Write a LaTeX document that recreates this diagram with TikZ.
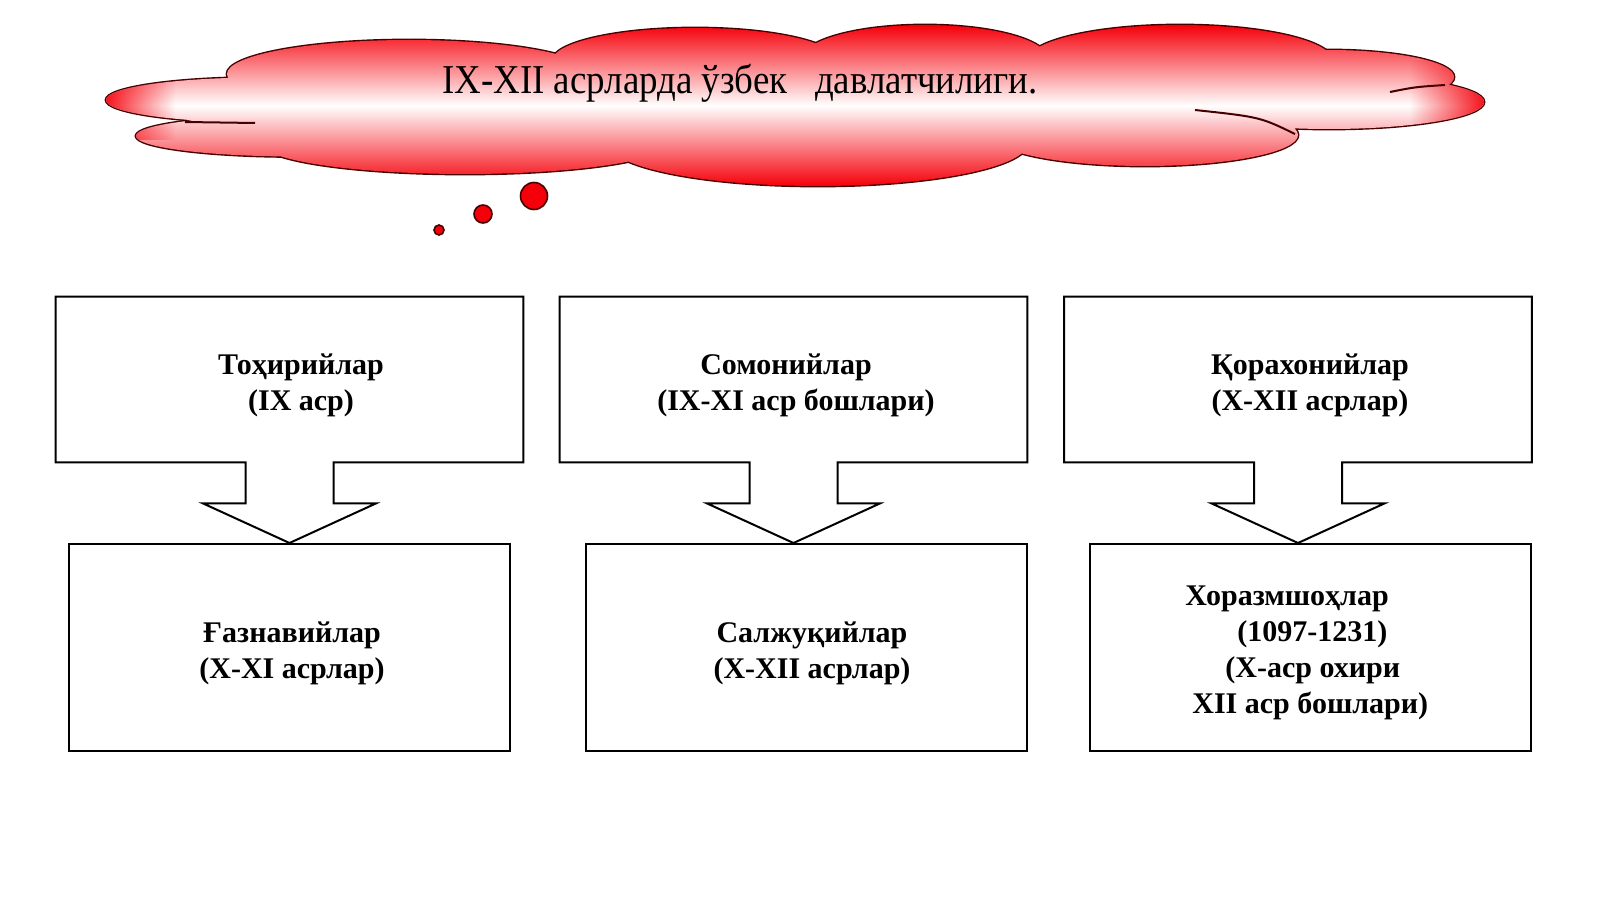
\documentclass[tikz,border=0pt]{standalone}
\usepackage{fontspec}
\setmainfont{Liberation Serif}
\newfontfamily\titlefont[FakeStretch=0.9]{Liberation Serif}
\usetikzlibrary{calc,fadings}
\definecolor{cloudred}{RGB}{245,0,10}
\definecolor{cloudedge}{RGB}{70,0,0}
\tikzfading[name=fadeleft, left color=transparent!0, right color=transparent!100]
\tikzfading[name=faderight, left color=transparent!100, right color=transparent!0]
%% lobes of the cloud: x/y/x radius/y radius
\newcommand{\cloudlobes}{261/100/155/22.5, 296/136/160/20.5, 409/74/182/34,
  695/61/143/33, 925/59/123/34, 1180/61/153/36, 1329/77/125/27,
  1329/102/155/27, 1145/135/153/31, 818/143/210/43, 465/143/204/31,
  736/102/510/51}

\begin{document}
\begin{tikzpicture}
[x=0.5pt,y=-0.5pt,
  topbox/.style={shape=rectangle,inner sep=0pt,minimum width=233.5pt,minimum height=82.5pt},%
  lowbox/.style={shape=rectangle,draw,line width=1pt,inner sep=0pt,minimum width=220.5pt,minimum height=103.5pt},%
  calloutline/.style={draw,line width=1pt,line join=miter},%
  boxtext/.style={font=\bfseries\fontsize{15}{18}\selectfont,align=center,inner sep=0pt},%
  cloudline/.style={draw=cloudedge,line width=1.4pt},%
  cloudfill/.style={top color=cloudred,bottom color=cloudred,middle color=white},%
  bubble/.style={fill=cloudred,draw=cloudedge,line width=0.8pt}]
\useasboundingbox[fill=white] (0,0) rectangle (1600,899);
%% cloud
\foreach \x/\y/\a/\b in \cloudlobes
{
  \path[cloudline] (\x,\y) ellipse [x radius=\a, y radius=\b];
}
\shade[cloudfill] \foreach \x/\y/\a/\b in \cloudlobes {(\x,\y) ellipse [x radius=\a, y radius=\b]};
\begin{scope}
  \clip \foreach \x/\y/\a/\b in \cloudlobes {(\x,\y) ellipse [x radius=\a, y radius=\b]};
  \fill[cloudred,path fading=fadeleft] (100,60) rectangle (175,140);
  \fill[cloudred,path fading=faderight] (1410,60) rectangle (1490,140);
\end{scope}
\draw[cloudedge,line width=1pt] (185,122) .. controls (220,123) .. (255,123);
\draw[cloudedge,line width=1pt] (1195,110) .. controls (1260,117) .. (1295,134);
\draw[cloudedge,line width=1pt] (1390,92) .. controls (1415,87) .. (1445,85);
\node (title) at (740,83) [font=\titlefont\fontsize{20.5}{24}\selectfont] {IX-XII асрларда ўзбек~~~давлатчилиги.};
%% bubbles
\foreach \nodename/\x/\y/\r in {bubA/534/196/13.5, bubB/483/214/9, bubC/439/230/5}
{
  \node (\nodename) at (\x,\y) [bubble,circle,inner sep=0pt,minimum size=\r pt] {};
}
%% boxes
\foreach \n/\tx/\bx in {1/289.5/289.5, 2/793.5/806, 3/1298/1310}
{
  \node (top\n) at (\tx,379.5) [topbox] {};
  \node (low\n) at (\bx,647.5) [lowbox] {};
}
%% callout outlines
\foreach \n in {1,2,3}
{
  \draw[calloutline] (top\n.north west) -- (top\n.north east) -- (top\n.south east)
    -- ($(top\n.south)+(44,0)$) -- ++(0,41) -- ++(42.5,0) -- (top\n.south |- low\n.north)
    -- ($(top\n.south)+(-86.5,41)$) -- ++(42.5,0) -- ++(0,-41) -- (top\n.south west) -- cycle;
}
%% texts
\foreach \nodename/\x/\y/\txt in {toptext1/301/385/{Тоҳирийлар\\(IX аср)},
  toptext2/796/385/{Сомонийлар\hspace*{10pt}\\(IX-XI аср бошлари)},
  toptext3/1310/385/{Қорахонийлар\\(X-XII асрлар)},
  lowtext1/292/653/{Ғазнавийлар\\(X-XI асрлар)},
  lowtext2/812/653/{Салжуқийлар\\(X-XII асрлар)}}
{
  \node (\nodename) at (\x,\y) [boxtext] {\txt};
}
\node (lowtext3) at (1185,653) [boxtext,anchor=west,align=left]
  {Хоразмшоҳлар\\\hspace*{26pt}(1097-1231)\\\hspace*{20pt}(X-аср охири\\\hspace*{3.5pt}XII аср бошлари)};
\end{tikzpicture}
\end{document}
